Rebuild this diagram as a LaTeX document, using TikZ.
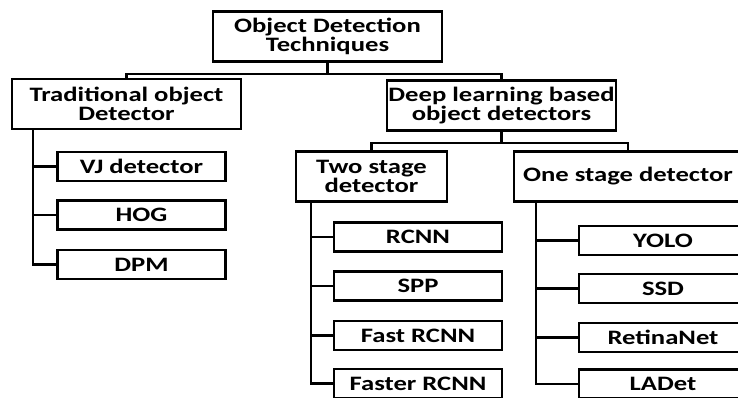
\documentclass[tikz,border=0pt]{standalone}
\usepackage{fontspec}
\setmainfont{Carlito}[FakeStretch=1.3]
\begin{document}
\begin{tikzpicture}[x=1pt,y=-1pt,line width=2.5pt,
		bigbox/.style={draw,minimum width=229,minimum height=50,inner sep=0pt,align=center,font=\fontsize{20.5}{19}\selectfont\bfseries},
		leafbox/.style={draw,minimum width=168,minimum height=29,inner sep=0pt,font=\fontsize{20.5}{19}\selectfont\bfseries}]
	\useasboundingbox (0,0) rectangle (738,397);
	\clip (0,0) rectangle (738,397);
	% top levels
	\node[bigbox] (root) at (327.5,36.5) {Object Detection\\Techniques};
	\node[bigbox] (trad) at (126.5,104) {Traditional object\\Detector};
	\node[bigbox] (deep) at (501.5,105.5) {Deep learning based\\object detectors};
	\node[bigbox, minimum width=151] (two) at (371.5,176.5) {Two stage\\detector};
	\node[bigbox, minimum width=228] (one) at (628,176.5) {One stage detector};
	% leaves
	\foreach \name/\y/\txt in {vj/166.5/VJ detector, hog/215/HOG, dpm/264.5/DPM}
		\node[leafbox] (\name) at (141.5,\y) {\txt};
	\foreach \name/\y/\txt in {rcnn/237/RCNN, spp/286/SPP, fast/335.5/Fast RCNN, faster/383.5/Faster RCNN}
		\node[leafbox] (\name) at (418,\y) {\txt};
	\foreach \name/\y/\txt in {yolo/240.5/YOLO, ssd/288.5/SSD, retina/337.5/RetinaNet, ladet/384/LADet}
		\node[leafbox] (\name) at (663,\y) {\txt};
	% connectors
	\draw (root.south) -- ++(0,11) -| (trad.north);
	\draw (root.south) -- ++(0,11) -| (deep.north);
	\draw (deep.south) -- ++(0,11) -| (two.north);
	\draw (deep.south) -- ++(0,11) -| (one.north);
	\foreach \leaf in {vj,hog,dpm}
		\draw (trad.south west) ++(22,0) |- (\leaf.west);
	\foreach \leaf in {rcnn,spp,fast,faster}
		\draw (two.south west) ++(16,0) |- (\leaf.west);
	\foreach \leaf in {yolo,ssd,retina,ladet}
		\draw (one.south west) ++(23,0) |- (\leaf.west);
\end{tikzpicture}
\end{document}
